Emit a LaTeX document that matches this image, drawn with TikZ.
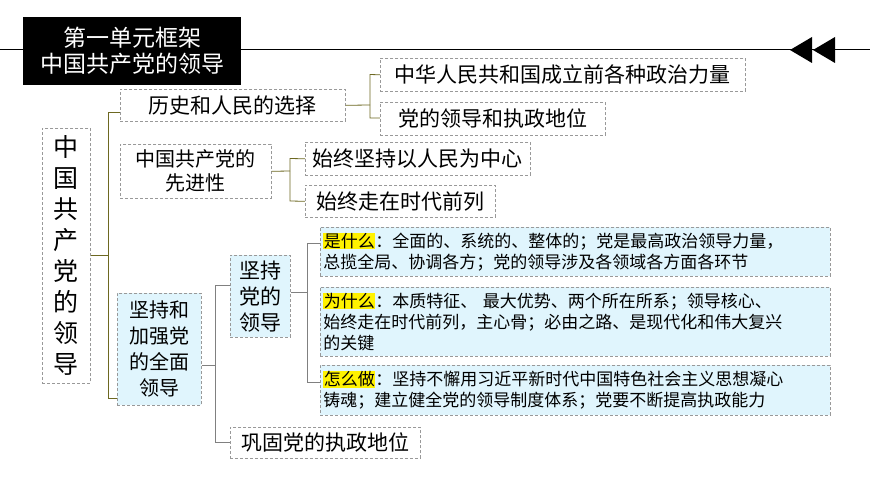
\documentclass[tikz,border=0pt]{standalone}
\usepackage{fontspec}
\setmainfont{Noto Sans CJK SC}
\newcommand{\hlk}[1]{{\setlength{\fboxsep}{0.5pt}\colorbox{yellow}{#1}}}
\begin{document}
\begin{tikzpicture}[x=1pt,y=-1pt,
  bx/.style={draw=gray!80,densely dashed,line width=0.6pt,inner sep=0pt,anchor=north west},
  cy/.style={bx,fill=cyan!12},
  br/.style={draw=olive!70!black,line width=0.8pt}]
\useasboundingbox (0,0) rectangle (870,489);
\fill[white] (0,0) rectangle (870,489);
\draw[line width=1pt] (0,50) -- (870,50);
\node[fill=black,text=white,minimum width=218pt,minimum height=68pt,inner sep=0pt,anchor=north west,align=center,font=\fontsize{23}{26}\selectfont] (title) at (23,17) {第一单元框架\\中国共产党的领导};
\fill (790,50) -- (812,37) -- (812,63) -- cycle;
\fill (813,50) -- (835,37) -- (835,63) -- cycle;
\node[bx,minimum width=48pt,minimum height=255pt,align=center,font=\fontsize{25}{31}\selectfont] (root) at (42,128) {中\\国\\共\\产\\党\\的\\领\\导};
\node[bx,minimum width=225pt,minimum height=32pt,font=\fontsize{21}{24}\selectfont] (hist) at (120,89) {历史和人民的选择};
\node[bx,minimum width=151pt,minimum height=54pt,align=center,font=\fontsize{20}{24}\selectfont] (adv) at (120,144) {中国共产党的\\先进性};
\node[cy,minimum width=84pt,minimum height=112pt,align=center,font=\fontsize{20}{26}\selectfont] (lead) at (117,293) {坚持和\\加强党\\的全面\\领导};
\node[bx,minimum width=365pt,minimum height=33pt,font=\fontsize{21}{24}\selectfont] (h1) at (380,58) {中华人民共和国成立前各种政治力量};
\node[bx,minimum width=225pt,minimum height=33pt,font=\fontsize{21}{24}\selectfont] (h2) at (380,102) {党的领导和执政地位};
\node[bx,minimum width=225pt,minimum height=33pt,font=\fontsize{21}{24}\selectfont] (a1) at (305,142) {始终坚持以人民为中心};
\node[bx,minimum width=190pt,minimum height=32pt,font=\fontsize{21}{24}\selectfont] (a2) at (305,185) {始终走在时代前列};
\node[cy,minimum width=60pt,minimum height=82pt,align=center,font=\fontsize{21}{26}\selectfont] (keep) at (230,255) {坚持\\党的\\领导};
\node[bx,minimum width=190pt,minimum height=31pt,font=\fontsize{21}{24}\selectfont] (cons) at (230,427) {巩固党的执政地位};
\node[cy,minimum width=510pt,minimum height=49pt,align=left,text width=504pt,font=\fontsize{17}{21}\selectfont] (w1) at (320,227) {\hlk{是什么}：全面的、系统的、整体的；党是最高政治领导力量，\\总揽全局、协调各方；党的领导涉及各领域各方面各环节};
\node[cy,minimum width=510pt,minimum height=69pt,align=left,text width=504pt,font=\fontsize{17}{21}\selectfont] (w2) at (320,287) {\hlk{为什么}：本质特征、 最大优势、两个所在所系；领导核心、\\始终走在时代前列，主心骨；必由之路、是现代化和伟大复兴\\的关键};
\node[cy,minimum width=510pt,minimum height=50pt,align=left,text width=504pt,font=\fontsize{17}{21}\selectfont] (w3) at (320,365) {\hlk{怎么做}：坚持不懈用习近平新时代中国特色社会主义思想凝心\\铸魂；建立健全党的领导制度体系；党要不断提高执政能力};
% connectors
\draw[br] (root.east |- 0,255) -- (108,255);
\draw[br] (hist.west |- 0,112) -- (108,112) -- (108,398) -- (lead.west |- 0,398);
\draw[br] (hist.east) -- (370,105);
\draw[br] (h1.west) -- (370,74.5) -- (370,118) -- (h2.west |- 0,118);
\draw[br] (adv.east) -- (290,171);
\draw[br] (a1.west) -- (290,158.5) -- (290,201) -- (a2.west);
\draw[gray] (lead.east |- 0,365) -- (215,365);
\draw[gray] (keep.west |- 0,285) -- (215,285) -- (215,442) -- (cons.west |- 0,442);
\draw[gray] (keep.east |- 0,292) -- (307,292);
\draw[gray] (w1.west |- 0,243) -- (307,243) -- (307,382) -- (w3.west |- 0,382);
\end{tikzpicture}
\end{document}
